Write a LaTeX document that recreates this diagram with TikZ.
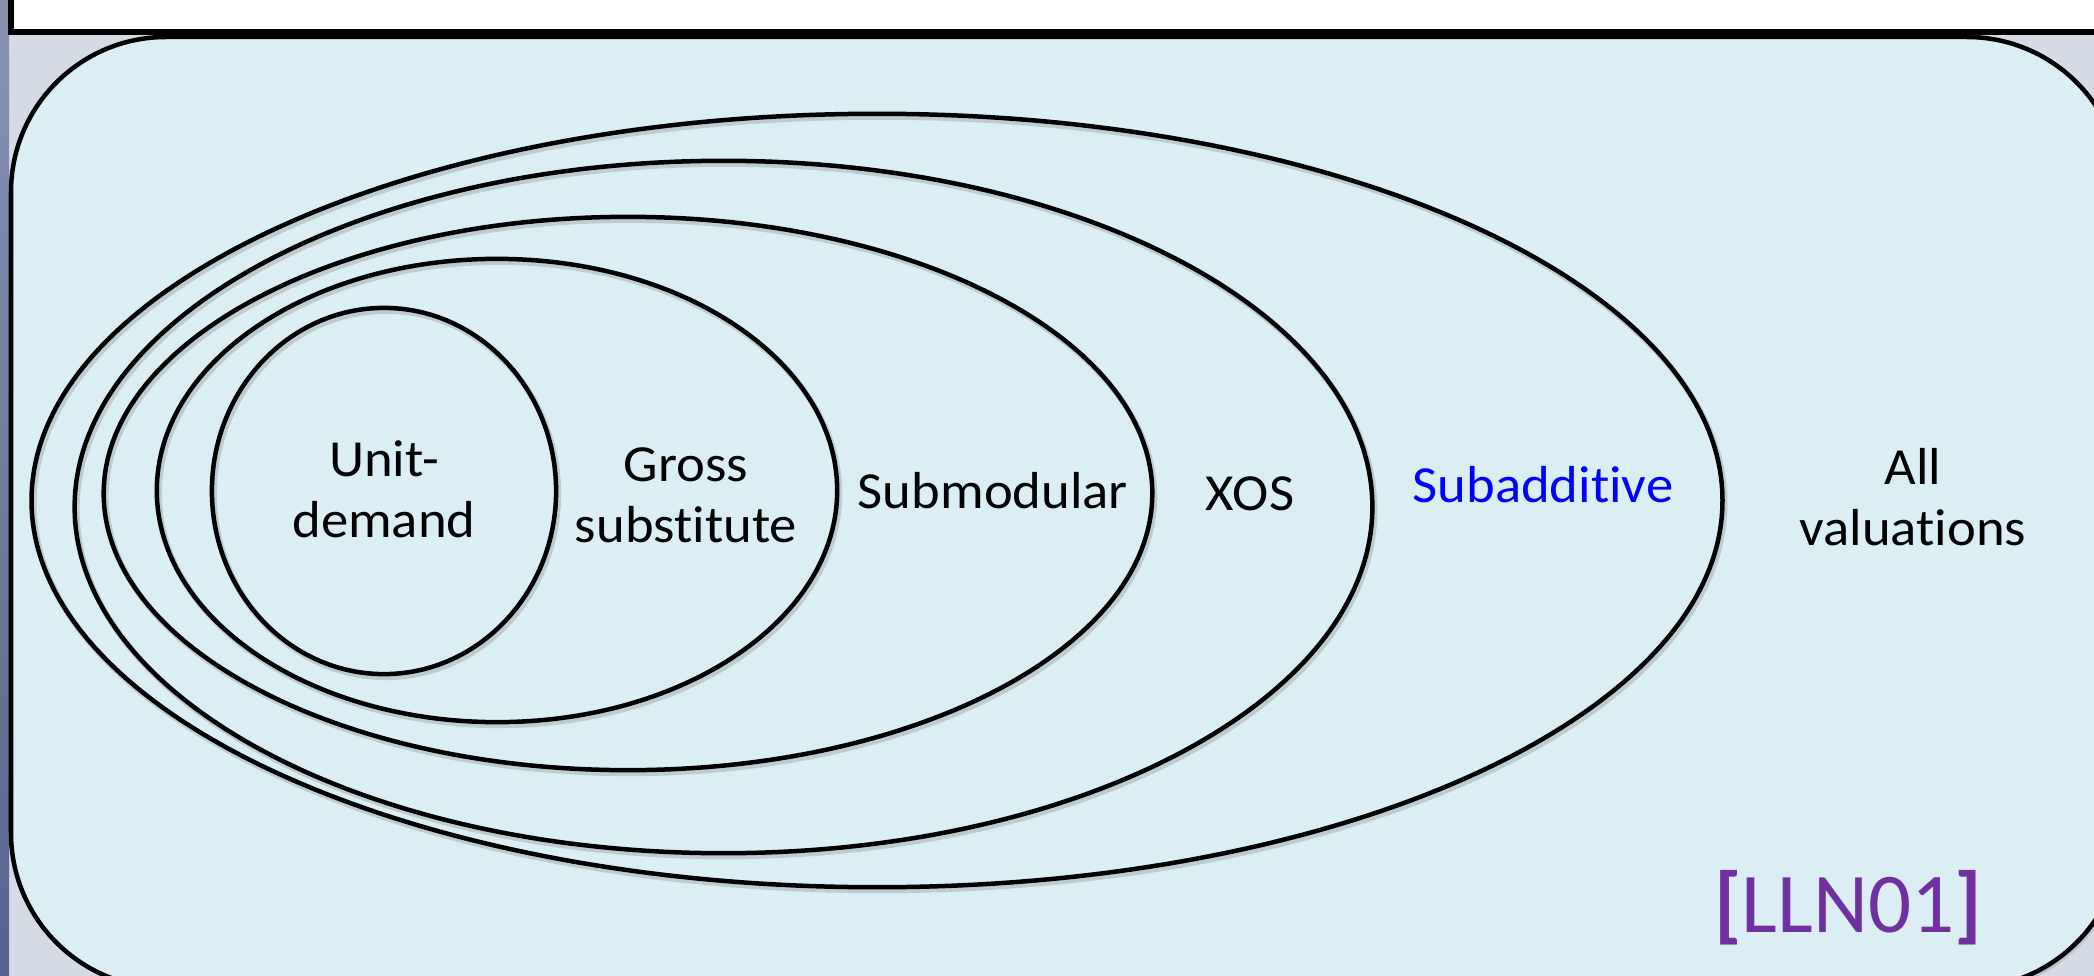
\documentclass[tikz,border=0pt]{standalone}
\usepackage{fontspec}
\setmainfont{Carlito}[FakeStretch=1.05, Ligatures=CommonOff]
\newfontfamily\reffont{Carlito}[Ligatures=CommonOff]
\usetikzlibrary{shapes.geometric}
\definecolor{panel}{HTML}{DAEEF3}
\definecolor{bggray}{HTML}{D5DBE5}
\definecolor{stripA}{HTML}{8893B0}
\definecolor{stripB}{HTML}{55638F}
\definecolor{titleblue}{HTML}{2E3D78}
\definecolor{refpurple}{HTML}{7030A0}
\definecolor{subblue}{HTML}{0000FF}
\begin{document}
\begin{tikzpicture}[x=0.01cm,y=-0.01cm,
  setline/.style={draw=black, line width=0.045cm},
  setshape/.style={ellipse, setline, inner sep=0pt, outer sep=0pt},
  shadowshape/.style={ellipse, draw=black!45, draw opacity=0.35, line width=0.06cm, inner sep=0pt, outer sep=0pt},
  lbl/.style={font=\fontsize{14.8}{17.07}\selectfont, inner sep=0pt, align=center, anchor=base},
]
\useasboundingbox (0,0) rectangle (2094,976);
% backdrop
\fill[bggray] (0,0) rectangle (2094,976);
\shade[top color=stripA, bottom color=stripB] (0,0) rectangle (9,976);
% panel
\fill[black!40, opacity=0.35, rounded corners=1.55cm] (13,40) rectangle (2125,992);
\draw[setline, fill=panel, rounded corners=1.55cm] (11,37) rectangle (2122,988);
% title box (cut off at top)
\draw[fill=white, line width=0.06cm] (11,-40) rectangle (2200,32);
\node[font=\reffont\fontsize{22}{26}\selectfont\bfseries, text=titleblue, anchor=base west, inner sep=0pt] (title) at (1203,-15) {yp};
% nested classes: shadows
\node[shadowshape, minimum width=16.90cm, minimum height=7.73cm] at (879,503.5) {};
\node[shadowshape, minimum width=12.97cm, minimum height=6.92cm] at (725.5,510) {};
\node[shadowshape, minimum width=10.48cm, minimum height=5.53cm] at (630,496.5) {};
\node[shadowshape, minimum width=6.80cm, minimum height=4.63cm] at (499,493.5) {};
\node[shadowshape, minimum width=3.44cm, minimum height=3.66cm] at (386,494) {};
% nested classes
\node[setshape, minimum width=16.90cm, minimum height=7.73cm] (subadd) at (877,500.5) {};
\node[setshape, minimum width=12.97cm, minimum height=6.92cm] (xos) at (723.5,507) {};
\node[setshape, minimum width=10.48cm, minimum height=5.53cm] (submod) at (628,493.5) {};
\node[setshape, minimum width=6.80cm, minimum height=4.63cm] (gross) at (497,490.5) {};
\node[setshape, minimum width=3.44cm, minimum height=3.66cm] (unit) at (384,491) {};
% labels (anchor at baseline of last line)
\node[lbl] (unitlbl) at (384,537) {Unit-\\demand};
\node[lbl] (grosslbl) at (686,542) {Gross\\substitute};
\node[lbl] (submodlbl) at (993,508) {Submodular};
\node[lbl] (xoslbl) at (1250,510) {XOS};
\node[lbl, text=subblue] (subaddlbl) at (1543,502) {Subadditive};
\node[lbl] (alllbl) at (1913,545) {All\\valuations};
\node[font=\reffont\fontsize{24.2}{29}\selectfont, text=refpurple, inner sep=0pt, anchor=base] (ref) at (1848,932) {\textbf{[}LLN01\textbf{]}};
\end{tikzpicture}
\end{document}
